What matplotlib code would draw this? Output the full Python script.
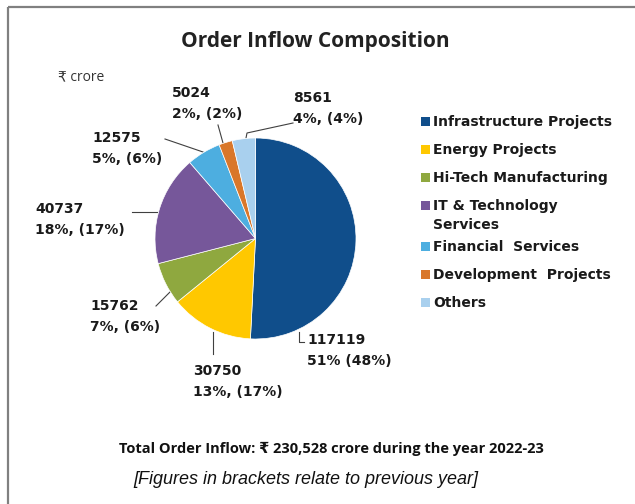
import matplotlib
matplotlib.use("Agg")
import matplotlib.pyplot as plt
from matplotlib.patches import Rectangle

W, H = 635, 504

categories = [
    "Infrastructure Projects",
    "Energy Projects",
    "Hi-Tech Manufacturing",
    "IT & Technology\nServices",
    "Financial  Services",
    "Development  Projects",
    "Others",
]
values = [117119, 30750, 15762, 40737, 12575, 5024, 8561]
pct_labels = ["51% (48%)", "13%, (17%)", "7%, (6%)", "18%, (17%)",
              "5%, (6%)", "2%, (2%)", "4%, (4%)"]
colors = ["#104e8b", "#ffc800", "#8fa83f", "#76579a", "#4daee0", "#d9772a", "#a9d0ee"]

# label layout in pixels: text left / first baseline, leader line points
label_pos = [(307, 344), (193, 375), (90, 310), (35, 213), (92, 142), (172, 97), (293, 102)]
leaders = [
    [(304, 342), (299, 342), (299, 332)],
    [(213, 354), (213, 332)],
    [(156, 306), (170, 292)],
    [(132, 212), (157, 212)],
    [(165, 139), (203, 152)],
    [(218, 125), (223, 143)],
    [(293, 123), (247, 133), (246, 138)],
]

LABEL_FONT = "DejaVu Sans"
plt.rcParams["font.family"] = ["Open Sans", "DejaVu Sans"]

fig = plt.figure(figsize=(W / 100, H / 100), dpi=100)
bg = fig.add_axes([0, 0, 1, 1])
bg.set_xlim(0, W)
bg.set_ylim(H, 0)
bg.axis("off")

bg.add_patch(Rectangle((7.5, 6.5), W + 10, H + 10, fill=False, edgecolor="#808080", lw=1.6))

bg.text(315, 41, "Order Inflow Composition", ha="center", va="center",
        fontsize=15, fontweight="bold", color="#222222")
bg.text(58, 78, "₹ crore", ha="left", va="center", fontsize=10, color="#333333")

# pie
cx, cy, r = 255.5, 238.5, 100.5
pie_ax = fig.add_axes([(cx - r) / W, (H - cy - r) / H, 2 * r / W, 2 * r / H])
pie_ax.pie(values, colors=colors, startangle=90, counterclock=False,
           wedgeprops=dict(linewidth=0.5, edgecolor="white"))
pie_ax.set_xlim(-1, 1)
pie_ax.set_ylim(-1, 1)
pie_ax.set_aspect("auto")

for value, pct, (x, y), pts in zip(values, pct_labels, label_pos, leaders):
    bg.text(x, y, str(value), ha="left", va="baseline", fontsize=10,
            fontweight="bold", family=LABEL_FONT, color="#1a1a1a")
    bg.text(x, y + 21, pct, ha="left", va="baseline", fontsize=10,
            fontweight="bold", family=LABEL_FONT, color="#1a1a1a")
    xs, ys = zip(*pts)
    bg.plot(xs, ys, color="#404040", lw=0.8)

# legend, drawn by hand so the two-line entry sits like the original
y = 121
for name, color in zip(categories, colors):
    bg.add_patch(Rectangle((421, y - 4.5), 9, 9, facecolor=color, edgecolor="none"))
    lines = name.split("\n")
    for k, line in enumerate(lines):
        bg.text(433, y + 5 + 19 * k, line, ha="left", va="baseline", fontsize=10,
                fontweight="bold", family=LABEL_FONT, color="#1a1a1a")
    y += 28 + 13 * (len(lines) - 1)

bg.text(331, 449, "Total Order Inflow: ₹ 230,528 crore during the year 2022-23",
        ha="center", va="center", fontsize=10.5, fontweight="bold", color="#111111")
bg.text(306, 479, "[Figures in brackets relate to previous year]", ha="center",
        va="center", fontsize=13, style="italic", family="Liberation Sans", color="#111111")

fig.savefig("out.png", dpi=100)
